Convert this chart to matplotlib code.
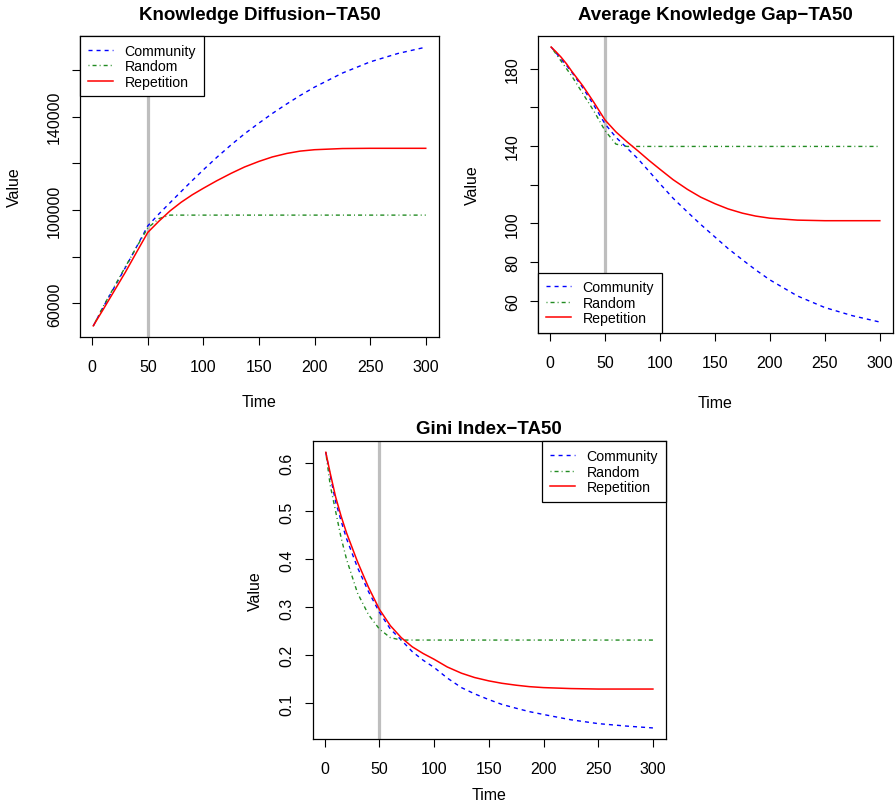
import matplotlib
matplotlib.use('Agg')
import matplotlib.pyplot as plt
from matplotlib.lines import Line2D

plt.rcParams['font.family'] = ['Liberation Sans', 'DejaVu Sans']

# time points sampled from the curves
t = [1, 5, 10, 15, 20, 30, 40, 50, 60, 70, 80, 90, 100, 112, 125, 137, 150,
     162, 175, 187, 200, 225, 250, 275, 300]

# Knowledge Diffusion
kd_community = [50400, 54000, 58500, 62800, 67000, 75500, 84300, 93200, 98300, 103100,
                107900, 112600, 117200, 122500, 127900, 132600, 137200, 141300, 145400,
                149000, 152600, 158600, 163400, 167000, 169700]
kd_random = [50400, 54100, 58800, 63000, 67300, 75800, 84200, 92300, 96300, 97800,
             97800, 97800, 97800, 97800, 97800, 97800, 97800, 97800, 97800,
             97800, 97800, 97800, 97800, 97800, 97800]
kd_repetition = [50400, 53600, 57500, 61500, 65500, 73500, 82000, 90400, 95200, 99600,
                 103300, 106500, 109300, 112500, 115700, 118400, 120800, 122700, 124200,
                 125200, 125800, 126300, 126400, 126400, 126400]

# Average Knowledge Gap
gap_community = [191.2, 188.5, 185.0, 181.7, 178.0, 170.0, 161.0, 151.5, 144.5, 139.0,
                 133.4, 127.0, 120.5, 113.0, 105.9, 99.5, 93.0, 87.0, 81.2,
                 76.0, 70.8, 62.5, 56.5, 52.3, 49.0]
gap_random = [191.2, 188.0, 184.0, 180.0, 176.0, 167.0, 158.0, 148.0, 141.0, 139.8,
              139.8, 139.8, 139.8, 139.8, 139.8, 139.8, 139.8, 139.8, 139.8,
              139.8, 139.8, 139.8, 139.8, 139.8, 139.8]
gap_repetition = [191.2, 189.0, 186.0, 182.5, 178.5, 171.0, 162.5, 153.5, 147.3, 142.2,
                  137.5, 132.6, 128.0, 122.6, 117.6, 113.6, 110.2, 107.5, 105.3,
                  103.8, 102.7, 101.7, 101.4, 101.4, 101.4]

# Gini Index
gini_community = [0.623, 0.575, 0.520, 0.480, 0.443, 0.383, 0.333, 0.290, 0.255, 0.232,
                  0.208, 0.190, 0.175, 0.153, 0.133, 0.120, 0.108, 0.098, 0.090,
                  0.083, 0.077, 0.066, 0.058, 0.053, 0.049]
gini_random = [0.623, 0.555, 0.500, 0.445, 0.400, 0.330, 0.285, 0.255, 0.237, 0.232,
               0.232, 0.232, 0.232, 0.232, 0.232, 0.232, 0.232, 0.232, 0.232,
               0.232, 0.232, 0.232, 0.232, 0.232, 0.232]
gini_repetition = [0.623, 0.580, 0.530, 0.490, 0.455, 0.395, 0.342, 0.296, 0.262, 0.237,
                   0.218, 0.204, 0.192, 0.176, 0.163, 0.154, 0.147, 0.142, 0.138,
                   0.135, 0.133, 0.131, 0.130, 0.130, 0.130]

x_ticks = [0, 50, 100, 150, 200, 250, 300]
labels = ['Community', 'Random', 'Repetition']

DASH = (2.9, 2.9)
DOTDASH = (0.7, 2.2, 2.9, 2.2)


def r_style_panel(ax, title, series, yticks, ylabels, legend_loc, xlab_pad, ylab_pad, title_pad):
    c, r, p = series
    ax.axvline(50, color='#bebebe', lw=2.3, zorder=1)
    ax.plot(t, c, color='blue', lw=1.0, dashes=DASH, zorder=2)
    ax.plot(t, r, color='forestgreen', lw=1.0, dashes=DOTDASH, zorder=2)
    ax.plot(t, p, color='red', lw=1.1, zorder=3)

    ymin = min(min(c), min(r), min(p))
    ymax = max(max(c), max(r), max(p))
    pad = (ymax - ymin) * 0.04
    ax.set_ylim(ymin - pad, ymax + pad)
    ax.set_xlim(1 - 299 * 0.04, 300 + 299 * 0.04)

    ax.set_xticks(x_ticks)
    ax.set_yticks(yticks)
    ax.set_yticklabels(ylabels, rotation=90, va='center')
    ax.tick_params(direction='out', length=6, width=0.8, labelsize=11.5)
    ax.tick_params(axis='x', pad=10)
    ax.tick_params(axis='y', pad=7)
    for s in ax.spines.values():
        s.set_linewidth(0.9)

    ax.set_title(title, fontsize=13.5, fontweight='bold', pad=title_pad)
    ax.set_xlabel('Time', fontsize=11.5, labelpad=xlab_pad)
    ax.set_ylabel('Value', fontsize=11.5, labelpad=ylab_pad)

    handles = [Line2D([], [], color='blue', lw=1.0, dashes=DASH),
               Line2D([], [], color='forestgreen', lw=1.0, dashes=DOTDASH),
               Line2D([], [], color='red', lw=1.1)]
    leg = ax.legend(handles, labels, loc=legend_loc, borderaxespad=0, fancybox=False,
                    framealpha=1, edgecolor='black', fontsize=10.2, handlelength=1.8,
                    handletextpad=0.8, labelspacing=0.1, borderpad=0.55)
    leg.get_frame().set_linewidth(0.9)


fig = plt.figure(figsize=(8.96, 8.03), dpi=100)

ax1 = fig.add_axes([0.0893, 0.5791, 0.4007, 0.3748])
r_style_panel(ax1, 'Knowledge Diffusion\u2212TA50', (kd_community, kd_random, kd_repetition),
              [60000, 80000, 100000, 120000, 140000, 160000],
              ['60000', '', '100000', '', '140000', ''], 'upper left', 14, 18, 12)

ax2 = fig.add_axes([0.6004, 0.584, 0.3962, 0.3699])
r_style_panel(ax2, 'Average Knowledge Gap\u2212TA50', (gap_community, gap_random, gap_repetition),
              [60, 80, 100, 120, 140, 160, 180],
              ['60', '80', '100', '', '140', '', '180'], 'lower left', 18, 18, 12)

ax3 = fig.add_axes([0.349, 0.0785, 0.3943, 0.3707])
r_style_panel(ax3, 'Gini Index\u2212TA50', (gini_community, gini_random, gini_repetition),
              [0.1, 0.2, 0.3, 0.4, 0.5, 0.6],
              ['0.1', '0.2', '0.3', '0.4', '0.5', '0.6'], 'upper right', 8, 12, 6)

fig.savefig('out.png', dpi=100)
